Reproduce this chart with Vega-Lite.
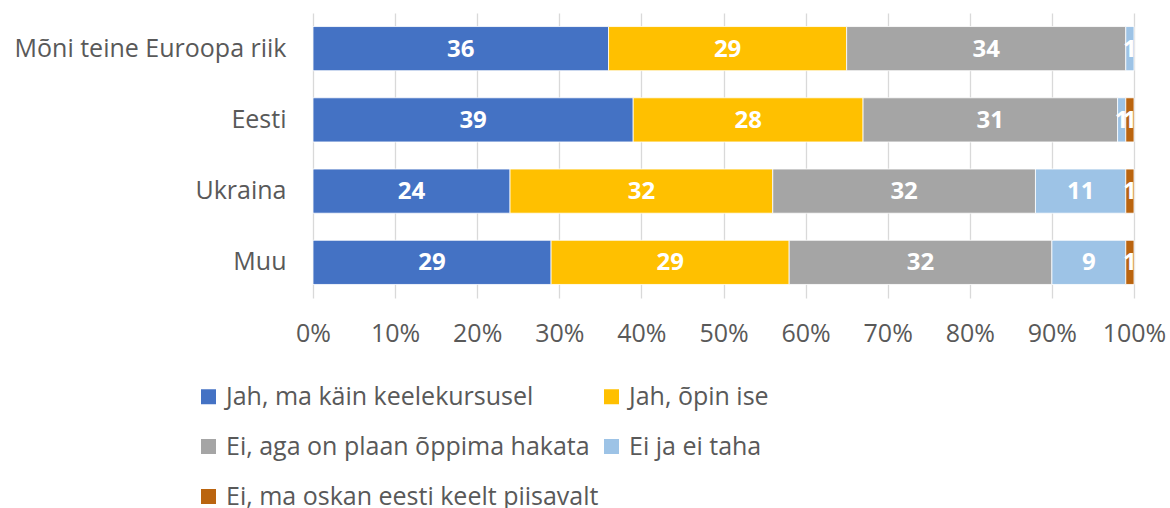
{
  "$schema": "https://vega.github.io/schema/vega-lite/v6.json",
  "width": 821,
  "height": 285,
  "autosize": "none",
  "padding": {"left": 313, "top": 13, "right": 36, "bottom": 210},
  "background": "white",
  "config": {"view": {"stroke": null}, "font": "Open Sans"},
  "data": {
    "values": [
      {"c": "Mõni teine Euroopa riik", "s": "Jah, ma käin keelekursusel", "k": 1, "v": 36},
      {"c": "Mõni teine Euroopa riik", "s": "Jah, õpin ise", "k": 2, "v": 29},
      {"c": "Mõni teine Euroopa riik", "s": "Ei, aga on plaan õppima hakata", "k": 3, "v": 34},
      {"c": "Mõni teine Euroopa riik", "s": "Ei ja ei taha", "k": 4, "v": 1},
      {"c": "Eesti", "s": "Jah, ma käin keelekursusel", "k": 1, "v": 39},
      {"c": "Eesti", "s": "Jah, õpin ise", "k": 2, "v": 28},
      {"c": "Eesti", "s": "Ei, aga on plaan õppima hakata", "k": 3, "v": 31},
      {"c": "Eesti", "s": "Ei ja ei taha", "k": 4, "v": 1},
      {"c": "Eesti", "s": "Ei, ma oskan eesti keelt piisavalt", "k": 5, "v": 1},
      {"c": "Ukraina", "s": "Jah, ma käin keelekursusel", "k": 1, "v": 24},
      {"c": "Ukraina", "s": "Jah, õpin ise", "k": 2, "v": 32},
      {"c": "Ukraina", "s": "Ei, aga on plaan õppima hakata", "k": 3, "v": 32},
      {"c": "Ukraina", "s": "Ei ja ei taha", "k": 4, "v": 11},
      {"c": "Ukraina", "s": "Ei, ma oskan eesti keelt piisavalt", "k": 5, "v": 1},
      {"c": "Muu", "s": "Jah, ma käin keelekursusel", "k": 1, "v": 29},
      {"c": "Muu", "s": "Jah, õpin ise", "k": 2, "v": 29},
      {"c": "Muu", "s": "Ei, aga on plaan õppima hakata", "k": 3, "v": 32},
      {"c": "Muu", "s": "Ei ja ei taha", "k": 4, "v": 9},
      {"c": "Muu", "s": "Ei, ma oskan eesti keelt piisavalt", "k": 5, "v": 1}
    ]
  },
  "transform": [
    {"stack": "v", "groupby": ["c"], "sort": [{"field": "k", "order": "ascending"}], "as": ["x0", "x1"]}
  ],
  "encoding": {
    "y": {
      "field": "c",
      "type": "nominal",
      "sort": null,
      "title": null,
      "scale": {"paddingInner": 0.38, "paddingOuter": 0.19},
      "axis": {"domain": false, "ticks": false, "labelFontSize": 25, "labelColor": "#595959", "labelPadding": 27, "labelLimit": 400}
    }
  },
  "layer": [
    {
      "mark": {"type": "bar", "stroke": "white", "strokeWidth": 0.8},
      "encoding": {
        "x": {
          "field": "x0",
          "type": "quantitative",
          "title": null,
          "scale": {"domain": [0, 100], "nice": false},
          "axis": {
            "values": [0, 10, 20, 30, 40, 50, 60, 70, 80, 90, 100],
            "labelExpr": "datum.value + '%'",
            "domain": false,
            "ticks": false,
            "grid": true,
            "gridColor": "#D9D9D9",
            "gridWidth": 1.3,
            "labelFontSize": 25,
            "labelColor": "#595959",
            "labelPadding": 23,
            "labelFlush": false
          }
        },
        "x2": {"field": "x1"},
        "color": {
          "field": "s",
          "type": "nominal",
          "scale": {
            "domain": ["Jah, ma käin keelekursusel", "Jah, õpin ise", "Ei, aga on plaan õppima hakata", "Ei ja ei taha", "Ei, ma oskan eesti keelt piisavalt"],
            "range": ["#4472C4", "#FFC000", "#A5A5A5", "#9DC3E6", "#BA640F"]
          },
          "legend": {
            "title": null,
            "orient": "none",
            "legendX": -117,
            "legendY": 371,
            "direction": "horizontal",
            "columns": 2,
            "symbolType": "square",
            "symbolSize": 225,
            "symbolStrokeWidth": 0,
            "labelFontSize": 25,
            "labelColor": "#595959",
            "labelLimit": 500,
            "labelOffset": 5,
            "rowPadding": 24,
            "columnPadding": 0
          }
        }
      }
    },
    {
      "transform": [
        {"fold": ["x0", "x1"], "as": ["edge", "pos"]},
        {"aggregate": [{"op": "mean", "field": "pos", "as": "mid"}], "groupby": ["c", "s", "v"]}
      ],
      "mark": {"type": "text", "color": "white", "fontWeight": "bold", "fontSize": 24, "baseline": "middle", "dy": 1},
      "encoding": {
        "x": {"field": "mid", "type": "quantitative"},
        "text": {"field": "v", "type": "quantitative"}
      }
    }
  ]
}
